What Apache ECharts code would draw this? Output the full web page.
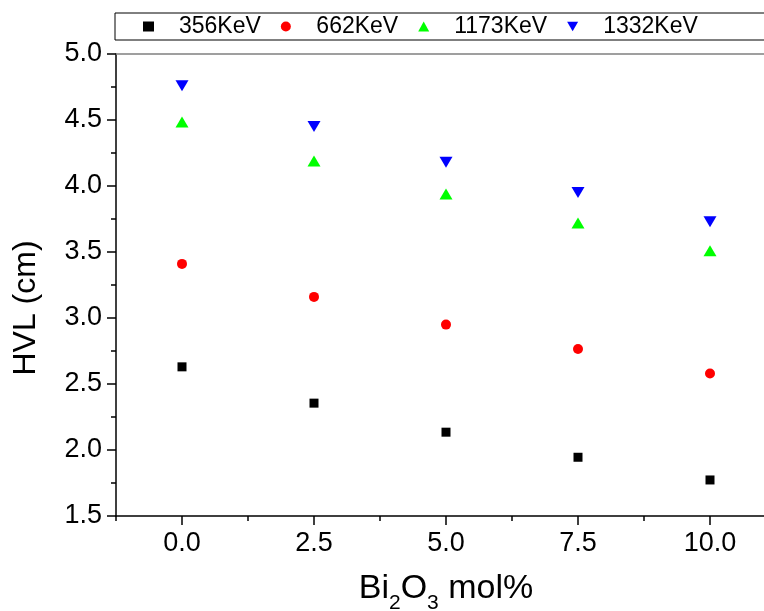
<!DOCTYPE html>
<html>
<head>
<meta charset="utf-8">
<script src="https://cdn.jsdelivr.net/npm/echarts@6/dist/echarts.min.js"></script>
<style>
html,body{margin:0;padding:0;background:#fff;}
#chart{width:764px;height:611px;}
</style>
</head>
<body>
<div id="chart"></div>
<script>
var xValues = [0, 2.5, 5, 7.5, 10];
var xTickLabels = ['0.0', '2.5', '5.0', '7.5', '10.0'];
var seriesNames = ['356KeV', '662KeV', '1173KeV', '1332KeV'];
var hvl356 = [2.63, 2.355, 2.135, 1.945, 1.773];
var hvl662 = [3.41, 3.16, 2.95, 2.765, 2.58];
var hvl1173 = [4.485, 4.19, 3.94, 3.72, 3.51];
var hvl1332 = [4.76, 4.45, 4.18, 3.95, 3.73];

function pairs(ys) { return xValues.map(function (x, i) { return [x, ys[i]]; }); }

var FONT = 'Liberation Sans, Arial, sans-serif';
var DOWN_TRI = 'path://M0,0L13,0L6.5,11Z';
var chart = echarts.init(document.getElementById('chart'), null, {renderer: 'canvas'});
chart.setOption({
  animation: false,
  backgroundColor: '#ffffff',
  grid: {left: 116, top: 54, width: 660, bottom: 95, containLabel: false, outerBoundsMode: 'none'},
  legend: {
    data: seriesNames,
    left: 115, top: 13, width: 1200,
    orient: 'horizontal',
    itemWidth: 11, itemHeight: 10, itemGap: 20,
    padding: [2, 300, 2, 28],
    borderColor: '#000', borderWidth: 1,
    textStyle: {fontSize: 23, fontFamily: FONT, color: '#000', padding: [0, 0, 0, 20]}
  },
  xAxis: [
    {
      type: 'value', position: 'bottom', min: -1.25, max: 11.25, interval: 1.25,
      axisLine: {onZero: false, lineStyle: {color: '#000', width: 1.5}},
      axisTick: {show: true, length: 5, lineStyle: {color: '#000', width: 1.5}},
      axisLabel: {show: false}, splitLine: {show: false}
    },
    {
      type: 'category', position: 'bottom', data: xTickLabels, boundaryGap: true,
      axisLine: {show: false, onZero: false},
      axisTick: {show: true, alignWithLabel: true, length: 9, lineStyle: {color: '#000', width: 1.5}},
      axisLabel: {fontSize: 27, fontFamily: FONT, color: '#000', margin: 14},
      splitLine: {show: false},
      name: 'Bi{s|2}O{s|3} mol%', nameLocation: 'middle', nameGap: 48,
      nameTextStyle: {
        fontSize: 34, fontFamily: FONT, color: '#000',
        rich: {s: {fontSize: 21, fontFamily: FONT, color: '#000', lineHeight: 50, verticalAlign: 'bottom'}}
      }
    },
    {
      type: 'value', position: 'top', min: -1.25, max: 11.25,
      axisLine: {onZero: false, lineStyle: {color: '#808080', width: 1.5}},
      axisTick: {show: false}, axisLabel: {show: false}, splitLine: {show: false}
    }
  ],
  yAxis: {
    type: 'value', min: 1.5, max: 5.0, interval: 0.5,
    axisLine: {show: true, onZero: false, lineStyle: {color: '#000', width: 1.5}},
    axisTick: {show: true, length: 9, lineStyle: {color: '#000', width: 1.5}},
    minorTick: {show: true, splitNumber: 2, length: 5, lineStyle: {color: '#000', width: 1.5}},
    axisLabel: {fontSize: 27, fontFamily: FONT, color: '#000', margin: 14,
      formatter: function (v) { return v.toFixed(1); }},
    splitLine: {show: false},
    name: 'HVL (cm)', nameLocation: 'middle', nameGap: 74,
    nameTextStyle: {fontSize: 32, fontFamily: FONT, color: '#000', padding: [0, 46, 0, 0]}
  },
  series: [
    {name: seriesNames[0], type: 'scatter', xAxisIndex: 0, data: pairs(hvl356),
      symbol: 'rect', symbolSize: 9, itemStyle: {color: '#000000', opacity: 1}},
    {name: seriesNames[1], type: 'scatter', xAxisIndex: 0, data: pairs(hvl662),
      symbol: 'circle', symbolSize: 10, itemStyle: {color: '#ff0000', opacity: 1}},
    {name: seriesNames[2], type: 'scatter', xAxisIndex: 0, data: pairs(hvl1173),
      symbol: 'triangle', symbolSize: [13, 11], itemStyle: {color: '#00ff00', opacity: 1}},
    {name: seriesNames[3], type: 'scatter', xAxisIndex: 0, data: pairs(hvl1332),
      symbol: DOWN_TRI, symbolSize: [13, 11], itemStyle: {color: '#0000ff', opacity: 1}}
  ]
});
</script>
</body>
</html>
